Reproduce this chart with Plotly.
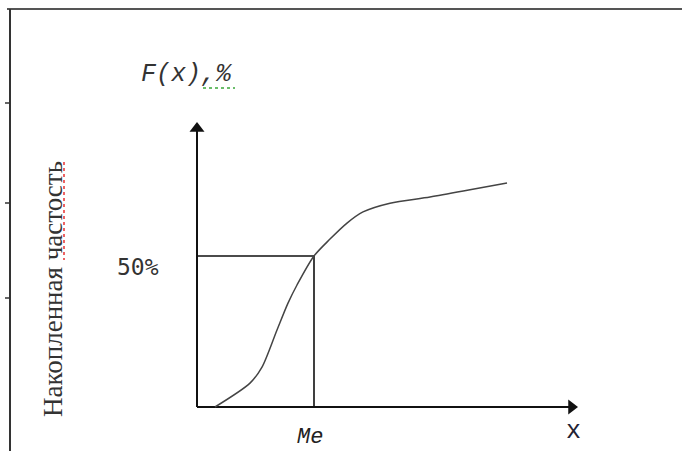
import plotly.graph_objects as go

# ---- data ----
curve_x = [1.8, 5.3, 6.5, 8.0, 9.1, 10.0, 11.7, 13.3, 15.0, 16.6, 19.3, 23.3, 27.3, 31.0]
curve_F = [0.0, 7.9, 13.2, 25.5, 34.4, 40.4, 50.0, 55.6, 60.9, 64.6, 67.5, 69.5, 71.9, 74.2]
median_x = 11.7
median_F = 50.0
x_axis_end = 37.45
y_axis_end = 92.2
label_y = "Накопленная частость"
label_F = "F(x),%"
label_50 = "50%"
label_me = "Me"
label_x = "x"

W, H = 682, 451
X_RANGE = [-19.7, 48.5]
Y_RANGE = [-14.57, 134.77]

fig = go.Figure()

# axes with arrowheads
fig.add_trace(go.Scatter(x=[0, 0], y=[0, y_axis_end], mode="lines",
                         line=dict(color="#111", width=2), hoverinfo="skip"))
fig.add_trace(go.Scatter(x=[0, x_axis_end], y=[0, 0], mode="lines",
                         line=dict(color="#111", width=2), hoverinfo="skip"))
fig.add_trace(go.Scatter(x=[0], y=[y_axis_end], mode="markers",
                         marker=dict(symbol="triangle-up", size=13, color="#111",
                                     line=dict(width=0)), hoverinfo="skip"))
fig.add_trace(go.Scatter(x=[x_axis_end], y=[0], mode="markers",
                         marker=dict(symbol="triangle-right", size=13, color="#111",
                                     line=dict(width=0)), hoverinfo="skip"))

# median guide lines
fig.add_trace(go.Scatter(x=[0, median_x, median_x], y=[median_F, median_F, 0], mode="lines",
                         line=dict(color="#111", width=1.6), hoverinfo="skip"))

# cumulative curve
fig.add_trace(go.Scatter(x=curve_x, y=curve_F, mode="lines",
                         line=dict(color="#444", width=1.5, shape="spline", smoothing=0.8),
                         hoverinfo="skip"))

def px(xp):
    return xp / W

def py(yp):
    return 1 - yp / H

shapes = [
    # frame
    dict(type="line", xref="paper", yref="paper", x0=px(7), x1=1.0, y0=py(9), y1=py(9),
         line=dict(color="#555", width=2)),
    dict(type="line", xref="paper", yref="paper", x0=px(10), x1=px(10), y0=py(9), y1=0,
         line=dict(color="#333", width=2)),
]
for t in [103, 203, 298]:
    shapes.append(dict(type="line", xref="paper", yref="paper", x0=px(5), x1=px(10),
                       y0=py(t), y1=py(t), line=dict(color="#333", width=1.5)))
# spell-check underlines
shapes.append(dict(type="line", xref="paper", yref="paper", x0=px(64), x1=px(64),
                   y0=py(162), y1=py(260), line=dict(color="#e83030", width=1.5, dash="dot")))
shapes.append(dict(type="line", xref="paper", yref="paper", x0=px(203), x1=px(235),
                   y0=py(88), y1=py(88), line=dict(color="#3aa83a", width=1.5, dash="dot")))

annotations = [
    dict(text=label_y, xref="paper", yref="paper", x=px(53), y=py(289), textangle=-90,
         showarrow=False, font=dict(family="Liberation Serif", size=27, color="#333"),
         xanchor="center", yanchor="middle"),
    dict(text="<i>" + label_F + "</i>", xref="paper", yref="paper", x=px(187), y=py(74),
         showarrow=False, font=dict(family="Liberation Mono", size=25, color="#333"),
         xanchor="center", yanchor="middle"),
    dict(text=label_50, xref="paper", yref="y", x=px(138), y=median_F - 3.6,
         showarrow=False, font=dict(family="DejaVu Sans Mono", size=23, color="#333"),
         xanchor="center", yanchor="middle"),
    dict(text="<i>" + label_me + "</i>", xref="x", yref="paper", x=median_x - 0.4, y=py(437),
         showarrow=False, borderpad=0, font=dict(family="Liberation Mono", size=22, color="#222"),
         xanchor="center", yanchor="middle"),
    dict(text=label_x, xref="paper", yref="paper", x=px(573), y=py(431),
         showarrow=False, font=dict(family="Liberation Mono", size=25, color="#223"),
         xanchor="center", yanchor="middle"),
]

fig.update_layout(
    width=W, height=H, autosize=False,
    margin=dict(l=0, r=0, t=0, b=0),
    paper_bgcolor="white", plot_bgcolor="white",
    showlegend=False,
    xaxis=dict(range=X_RANGE, visible=False, fixedrange=True),
    yaxis=dict(range=Y_RANGE, visible=False, fixedrange=True),
    shapes=shapes,
    annotations=annotations,
)

fig.write_html(
    "out.html",
    config={"displayModeBar": False},
    post_script="document.body.style.margin='0';document.body.style.overflow='hidden';",
)
